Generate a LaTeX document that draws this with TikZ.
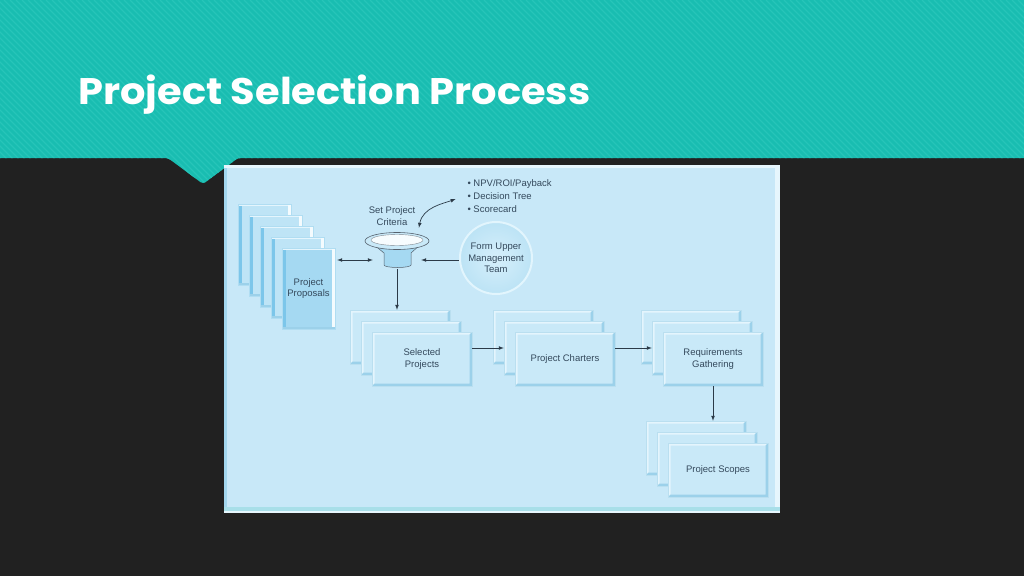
\documentclass[tikz,border=0pt]{standalone}
\usepackage{fontspec}
\setmainfont{Liberation Sans}
\newfontfamily\titlefont{Poppins}
\usetikzlibrary{positioning,arrows.meta}

\definecolor{headteal}{HTML}{19BDB1}
\definecolor{headstripe}{HTML}{27C5B9}
\definecolor{slatebg}{HTML}{212121}
\definecolor{panelfill}{HTML}{C8E8F8}
\definecolor{panelrim}{HTML}{E6F6FD}
\definecolor{paneledge}{HTML}{A2D6EE}
\definecolor{panelbase}{HTML}{A8DFE9}
\definecolor{cardfill}{HTML}{C9E9F8}
\definecolor{cardlight}{HTML}{E4F5FD}
\definecolor{carddark}{HTML}{9CD1EA}
\definecolor{pagefill}{HTML}{BEE4F6}
\definecolor{pagefront}{HTML}{A5D9F2}
\definecolor{pagespine}{HTML}{7CC6EA}
\definecolor{ink}{HTML}{34495C}
\definecolor{linkcol}{HTML}{2B3A48}
\definecolor{teamcore}{HTML}{D6EFFB}
\definecolor{teamedge}{HTML}{BCE3F5}
\definecolor{teamrim}{HTML}{E2F5FD}

\tikzstyle{every node}=[font=\fontsize{9.5}{11.5}\selectfont,text=ink]
\tikzstyle{arrow} = [line width=0.7pt,draw=linkcol,->,>=latex]

\tikzset{
  bevel/.style 2 args={path picture={
    \fill[#1] (path picture bounding box.south west) -- (path picture bounding box.north west) -- (path picture bounding box.north east)
      -- ([shift={(-2.5pt,-2.5pt)}]path picture bounding box.north east) -- ([shift={(2.5pt,-2.5pt)}]path picture bounding box.north west)
      -- ([shift={(2.5pt,2.5pt)}]path picture bounding box.south west) -- cycle;
    \fill[#2] (path picture bounding box.south west) -- (path picture bounding box.south east) -- (path picture bounding box.north east)
      -- ([shift={(-2.5pt,-2.5pt)}]path picture bounding box.north east) -- ([shift={(-2.5pt,2.5pt)}]path picture bounding box.south east)
      -- ([shift={(2.5pt,2.5pt)}]path picture bounding box.south west) -- cycle;
  }},
  spine/.style={path picture={
    \fill[pagespine] (path picture bounding box.south west) rectangle ([xshift=4pt]path picture bounding box.north west);
    \fill[cardlight] (path picture bounding box.north west) rectangle ([yshift=-2pt]path picture bounding box.north east);
    \fill[white!60!cardlight] (path picture bounding box.south east) rectangle ([xshift=-3pt]path picture bounding box.north east);
    \fill[carddark] (path picture bounding box.south west) rectangle ([yshift=2.5pt]path picture bounding box.south east);
  }},
  card/.style={minimum width=100pt,minimum height=54pt,inner sep=0pt,fill=cardfill,draw=carddark!70,line width=0.4pt,bevel={cardlight}{carddark},align=center},
  page/.style={minimum width=53pt,minimum height=81pt,inner sep=0pt,fill=pagefill,draw=pagespine!60,line width=0.4pt,spine,align=center},
  team/.style={circle,minimum size=72pt,inner sep=0pt,inner color=teamcore,outer color=teamedge,draw=teamrim,line width=2pt,align=center},
  headline/.style={anchor=base west,inner sep=0pt,font=\titlefont\bfseries\fontsize{37}{42}\selectfont}
}

\begin{document}
\begin{tikzpicture}[x=1pt,y=-1pt]
\useasboundingbox (0,0) rectangle (1024,576);
\fill[slatebg] (0,0) rectangle (1024,576);

% header band with notch
\begin{scope}
\clip[rounded corners=3pt] (-10,-10) -- (1034,-10) -- (1034,158) -- (238,158) -- (203,184) -- (168,158) -- (-10,158) -- cycle;
\fill[headteal] (0,0) rectangle (1024,190);
\foreach \s in {-200,-194,...,1030}
  \draw[headstripe,line width=1.2pt] (\s,0) -- ++(190,190);
\end{scope}

% title
\node[headline,text=white] (title) at (78,104) {\scalebox{1.08}[1]{Project Selection Process}};

% panel
\fill[panelrim] (224,165) rectangle (780,513);
\fill[panelfill] (227,168) rectangle (775,508);
\fill[paneledge] (224,168) rectangle (227,508);
\fill[panelbase] (224,507) rectangle (780,511);

% proposals
\foreach \i in {0,...,3}
  \node[page] (prop\i) at (264.5+11*\i,244.5+11*\i) {};
\node[page,fill=pagefront] (props) at (308.5,288.5) {Project\\Proposals};

% criteria funnel
\node[minimum width=48pt,minimum height=18pt,inner sep=0pt] (funnel) at (397,260) {};
\fill[pagefront,draw=linkcol!80,line width=0.5pt] (373,244) -- (384,253) -- (384,265) arc[start angle=180,end angle=360,x radius=13.5pt,y radius=2.5pt] -- (411,253) -- (421,244) -- cycle;
\fill[cardfill,draw=linkcol!80,line width=0.6pt] (397,241) ellipse[x radius=32pt,y radius=8.5pt];
\fill[white!70!cardlight,draw=linkcol!60,line width=0.4pt] (397,240) ellipse[x radius=26pt,y radius=5.5pt];
\node[align=center] (crittext) at (392,216) {Set Project\\Criteria};
\node[align=left,anchor=west,font=\fontsize{9.5}{13}\selectfont] (metrics) at (464,196) {• NPV/ROI/Payback\\• Decision Tree\\• Scorecard};
\node[team] (mgmt) at (496,258) {Form Upper\\Management\\Team};

% stacked cards
\foreach \n/\x/\y in {sel/400/337,cha/543/337,req/691/337,scp/696/448}{
  \node[card] (\n1) at (\x,\y) {};
  \node[card] (\n2) at (\x+11,\y+11) {};
}
\node[card] (sel3) at (422,359) {Selected\\Projects};
\node[card] (cha3) at (565,359) {Project Charters};
\node[card] (req3) at (713,359) {Requirements\\Gathering};
\node[card] (scp3) at (718,470) {Project Scopes};

% arrows
\draw[arrow,<->,shorten <=2pt] (props.east |- funnel.west) -- (funnel.west);
\draw[arrow] (mgmt.west |- funnel.east) -- (funnel.east);
\draw[arrow,<->,shorten <=1pt,shorten >=9pt] (crittext.south east) to[out=80,in=200] (metrics.west);
\draw[arrow] (funnel.south) -- (funnel.south |- sel1.north);
\draw[arrow] (sel3.east |- sel2.east) -- (cha2.west);
\draw[arrow] (cha3.east |- cha2.east) -- (req2.west);
\draw[arrow] (req3.south) -- (req3.south |- scp1.north);

\end{tikzpicture}
\end{document}
